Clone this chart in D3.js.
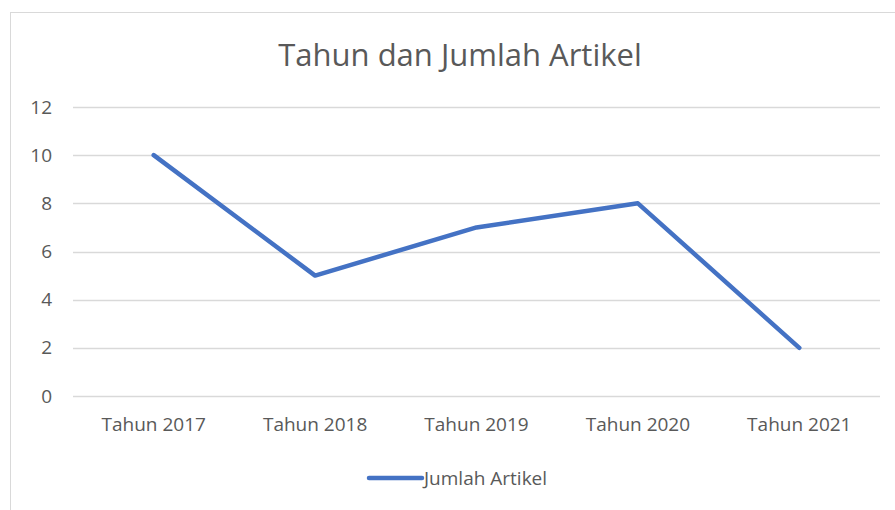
<!DOCTYPE html>
<html>
<head>
<meta charset="utf-8">
<script src="https://cdn.jsdelivr.net/npm/d3@7"></script>
<style>
  html, body { margin: 0; padding: 0; background: #fff; }
  svg { display: block; font-family: "Open Sans", sans-serif; }
</style>
</head>
<body>
<svg id="chart" width="895" height="510"></svg>
<script>
// Articles published per year
const categories = ["Tahun 2017", "Tahun 2018", "Tahun 2019", "Tahun 2020", "Tahun 2021"];
const values = [10, 5, 7, 8, 2];
const yTicks = [0, 2, 4, 6, 8, 10, 12];
const title = "Tahun dan Jumlah Artikel";
const seriesName = "Jumlah Artikel";

const svg = d3.select("#chart");
const W = 895, H = 510;
const margin = { left: 73, right: 15, top: 107, bottom: 114 };
const textColor = "#595959";
const gridColor = "#d9d9d9";
const lineColor = "#4472c4";

// chart frame (extends past the visible area on the right/bottom)
svg.append("rect")
  .attr("x", 10.5).attr("y", 12.5)
  .attr("width", 920).attr("height", 520)
  .attr("fill", "#fff")
  .attr("stroke", "#d9d9d9").attr("stroke-width", 1);

const x = d3.scaleBand()
  .domain(categories)
  .range([margin.left, W - margin.right]);

const y = d3.scaleLinear()
  .domain([0, 12])
  .range([H - margin.bottom, margin.top]);

// horizontal gridlines
svg.append("g")
  .selectAll("line")
  .data(yTicks)
  .join("line")
  .attr("x1", margin.left).attr("x2", W - margin.right)
  .attr("y1", d => Math.round(y(d)) + 0.5).attr("y2", d => Math.round(y(d)) + 0.5)
  .attr("stroke", gridColor).attr("stroke-width", 1.4);

// y axis labels
const yAxis = d3.axisLeft(y).tickValues(yTicks).tickSize(0).tickPadding(21);
const gy = svg.append("g")
  .attr("transform", `translate(${margin.left},0)`)
  .call(yAxis);
gy.select(".domain").remove();
gy.selectAll("text")
  .attr("fill", textColor)
  .style("font-size", "19px")
  .style("font-family", "Open Sans, sans-serif");

// x axis labels
const xAxis = d3.axisBottom(x).tickSize(0).tickPadding(22);
const gx = svg.append("g")
  .attr("transform", `translate(0,${y(0)})`)
  .call(xAxis);
gx.select(".domain").remove();
gx.selectAll("text")
  .attr("fill", textColor)
  .style("font-size", "19px")
  .style("font-family", "Open Sans, sans-serif");

// series line
const line = d3.line()
  .x((d, i) => x(categories[i]) + x.bandwidth() / 2)
  .y(d => y(d));

svg.append("path")
  .datum(values)
  .attr("d", line)
  .attr("fill", "none")
  .attr("stroke", lineColor)
  .attr("stroke-width", 4.5)
  .attr("stroke-linejoin", "round")
  .attr("stroke-linecap", "round");

// title
svg.append("text")
  .attr("x", 460).attr("y", 66)
  .attr("text-anchor", "middle")
  .attr("fill", textColor)
  .style("font-size", "31px")
  .text(title);

// legend
const legend = svg.append("g");
legend.append("line")
  .attr("x1", 369).attr("x2", 422)
  .attr("y1", 478).attr("y2", 478)
  .attr("stroke", lineColor).attr("stroke-width", 4.5)
  .attr("stroke-linecap", "round");
legend.append("text")
  .attr("x", 424).attr("y", 485)
  .attr("fill", textColor)
  .style("font-size", "19px")
  .text(seriesName);
</script>
</body>
</html>
